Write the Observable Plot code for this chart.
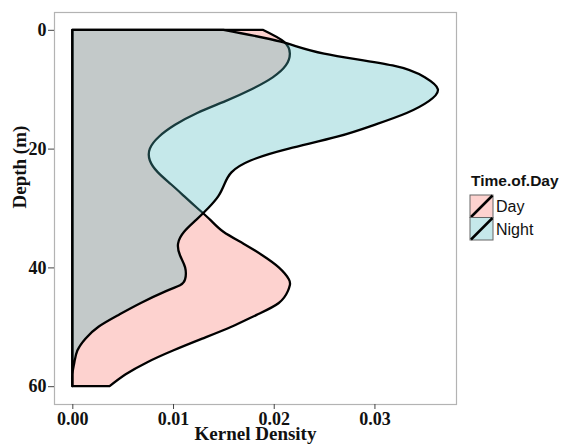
<!DOCTYPE html>
<html>
<head>
<meta charset="utf-8">
<script src="https://cdn.jsdelivr.net/npm/d3@7"></script>
<script src="https://cdn.jsdelivr.net/npm/@observablehq/plot@0.6"></script>
<style>
  html, body { margin: 0; padding: 0; background: white; }
  #wrap { position: relative; width: 563px; height: 444px; }
  #legend { position: absolute; left: 0; top: 0; }
</style>
</head>
<body>
<div id="wrap"></div>
<script>
// ---- data ----
const depths = [0, 2, 4, 6, 8, 10, 12, 14, 16, 18, 20, 22, 24, 26, 28, 30, 32, 34, 36, 38, 40, 42, 43, 44, 46, 48, 50, 52, 54, 56, 58, 60];
const dayDensity = [0.0189, 0.0210, 0.0216, 0.0212, 0.0199, 0.0178, 0.0152, 0.0124, 0.0102, 0.0086, 0.0077, 0.0077, 0.0085, 0.0098, 0.0111, 0.0124, 0.0137, 0.0150, 0.0170, 0.0189, 0.0205, 0.0215, 0.0216, 0.0214, 0.0205, 0.0183, 0.0158, 0.0129, 0.0100, 0.0074, 0.0053, 0.0037];
const nightDensity = [0.0150, 0.0207, 0.0250, 0.0318, 0.0350, 0.0363, 0.0354, 0.0332, 0.0300, 0.0263, 0.0215, 0.0177, 0.0158, 0.0151, 0.0145, 0.0135, 0.0123, 0.0111, 0.0105, 0.0107, 0.0112, 0.0112, 0.0107, 0.0093, 0.0068, 0.0046, 0.0026, 0.0013, 0.0005, 0.0002, 0.0000, 0.0000];
const groups = ["Day", "Night"];
const xTicks = [0, 0.01, 0.02, 0.03];
const yTicks = [0, 20, 40, 60];

const dayRows = depths.map((d, i) => ({depth: d, density: dayDensity[i], tod: "Day"}));
const nightRows = depths.map((d, i) => ({depth: d, density: nightDensity[i], tod: "Night"}));

const dayFill = "#F8766D", dayOpacity = 0.33;
const nightFill = "rgb(74,183,189)", nightOpacity = 0.32;

const chart = Plot.plot({
  width: 563,
  height: 444,
  marginLeft: 54,
  marginRight: 107,
  marginTop: 12,
  marginBottom: 40,
  style: {fontFamily: "'Liberation Serif', 'Times New Roman', serif", background: "white"},
  x: {domain: [-0.00182, 0.0381]},
  y: {domain: [-3, 63], reverse: true},
  marks: [
    Plot.areaX(dayRows, {y: "depth", x: "density", fill: dayFill, fillOpacity: dayOpacity, stroke: "black", strokeWidth: 2.3, strokeLinejoin: "round", curve: "natural"}),
    Plot.areaX(nightRows, {y: "depth", x: "density", fill: nightFill, fillOpacity: nightOpacity, stroke: "black", strokeWidth: 2.3, strokeLinejoin: "round", curve: "natural"}),
    Plot.frame({stroke: "#b3b3b3", strokeWidth: 1.2}),
    Plot.axisX({ticks: xTicks, tickFormat: ".2f", tickSize: 5, tickPadding: 3, fontSize: 18, fontWeight: "bold", fill: "#111", stroke: "#444", label: null}),
    Plot.axisY({ticks: yTicks, tickSize: 6, tickPadding: 2, fontSize: 18, fontWeight: "bold", fill: "#111", stroke: "#444", label: null}),
    Plot.text(["Kernel Density"], {frameAnchor: "bottom", lineAnchor: "bottom", dy: 35.5, fontSize: 19, fontWeight: "bold", fill: "#111"}),
    Plot.text(["Depth (m)"], {frameAnchor: "left", dx: -35, rotate: -90, fontSize: 19, fontWeight: "bold", fill: "#111"})
  ]
});
document.getElementById("wrap").appendChild(chart);

// ---- legend ----
const legend = d3.select("#wrap").append("svg")
  .attr("id", "legend")
  .attr("width", 563).attr("height", 444)
  .style("pointer-events", "none")
  .style("font-family", "'Liberation Sans', Arial, sans-serif");
legend.append("text").attr("x", 471).attr("y", 186)
  .attr("font-size", 15.5).attr("font-weight", "bold").attr("fill", "#111").text("Time.of.Day");
const fills = [[dayFill, dayOpacity], [nightFill, nightOpacity]];
groups.forEach((g, i) => {
  const y0 = 195 + i * 22.5;
  legend.append("rect").attr("x", 470).attr("y", y0).attr("width", 23).attr("height", 22.5)
    .attr("fill", "white");
  legend.append("rect").attr("x", 470).attr("y", y0).attr("width", 23).attr("height", 22.5)
    .attr("fill", fills[i][0]).attr("fill-opacity", fills[i][1]).attr("stroke", "#666").attr("stroke-width", 1);
  legend.append("line").attr("x1", 471).attr("y1", y0 + 22).attr("x2", 492.5).attr("y2", y0 + 0.5)
    .attr("stroke", "black").attr("stroke-width", 2.5);
  legend.append("text").attr("x", 496).attr("y", y0 + 11.5).attr("dy", "0.35em")
    .attr("font-size", 16).attr("fill", "#111").text(g);
});
</script>
</body>
</html>
